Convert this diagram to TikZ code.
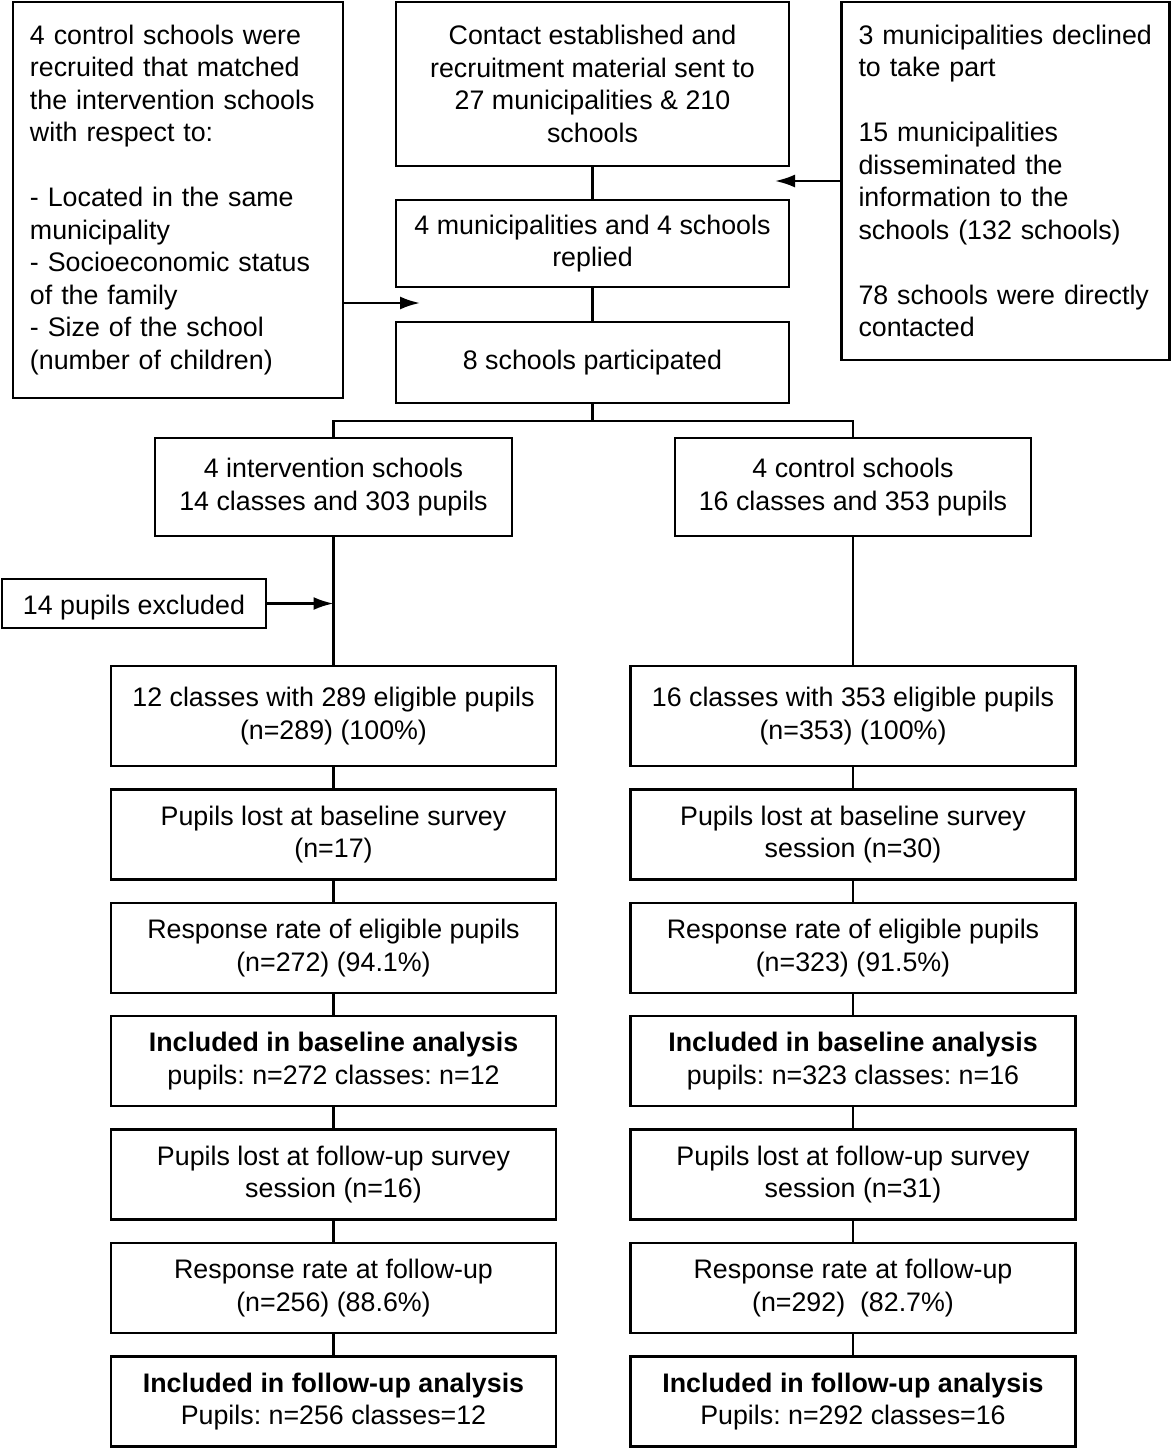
\documentclass[tikz,border=0pt]{standalone}
\usepackage{fontspec}
\setmainfont{Liberation Sans}
\usetikzlibrary{positioning,arrows.meta}
\frenchspacing

\begin{document}
\begin{tikzpicture}[x=0.5pt,y=-0.5pt,font=\fontsize{13.4}{16.25}\selectfont]
\tikzstyle{box}=[rectangle, draw=black, line width=1.2pt, align=center, inner sep=2pt]
\tikzstyle{note}=[box, align=left, inner xsep=8.5pt]
\tikzstyle{stage}=[box, minimum width=222.5pt, minimum height=45pt]
\tikzstyle{connect}=[-{Latex[length=10pt,width=6.5pt]}, line width=1.2pt]
\tikzstyle{link}=[line width=1.2pt]

\useasboundingbox (0,0) rectangle (1172,1448);

% 1. Recruitment
%%%%%%%%%%%%%%%%
\node[box, minimum width=196.5pt, minimum height=82pt] (contact) at (592.5,84)
  {Contact established and\\recruitment material sent to\\27 municipalities \& 210\\schools};
\node[box, minimum width=196.5pt, minimum height=43.5pt] (replied) at (592.5,243.5)
  {4 municipalities and 4 schools\\replied};
\node[box, minimum width=196.5pt, minimum height=40.5pt] (part) at (592.5,362.5)
  {8 schools participated};
\node[note, text width=148pt, minimum height=198pt] (match) at (178,200)
  {4 control schools were\\recruited that matched\\the intervention schools\\with respect to:\\[16.25pt]
   - Located in the same\\municipality\\- Socioeconomic status\\of the family\\- Size of the school\\(number of children)};
\node[note, text width=147pt, minimum height=179pt] (munic) at (1005.5,181)
  {3 municipalities declined\\to take part\\[16.25pt]
   15 municipalities\\disseminated the\\information to the\\schools (132 schools)\\[16.25pt]
   78 schools were directly\\contacted};
\coordinate (mtip) at (775,181);
\coordinate (ctip) at (420,303);
\coordinate (fork) at (592.5,421);

% 2. Groups
%%%%%%%%%%%
\node[box, minimum width=178.5pt, minimum height=49pt] (int) at (333.5,487)
  {4 intervention schools\\14 classes and 303 pupils};
\node[box, minimum width=178pt, minimum height=49pt] (ctl) at (853,487)
  {4 control schools\\16 classes and 353 pupils};
\node[box, minimum width=132pt, minimum height=24.5pt, text height=10.9pt, text depth=0pt] (excl) at (134,603.5)
  {14 pupils excluded};

% 3. Intervention column
%%%%%%%%%%%%%%%%%%%%%%%%
\node[stage, minimum height=50pt] (i1) at (333.5,716) {12 classes with 289 eligible pupils\\(n=289) (100\%)};
\node[stage] (i2) [below=10.5pt of i1] {Pupils lost at baseline survey\\(n=17)};
\node[stage] (i3) [below=10.5pt of i2] {Response rate of eligible pupils\\(n=272) (94.1\%)};
\node[stage] (i4) [below=10.5pt of i3] {\textbf{Included in baseline analysis}\\pupils: n=272 classes: n=12};
\node[stage] (i5) [below=10.5pt of i4] {Pupils lost at follow-up survey\\session (n=16)};
\node[stage] (i6) [below=10.5pt of i5] {Response rate at follow-up\\(n=256) (88.6\%)};
\node[stage] (i7) [below=10.5pt of i6] {\textbf{Included in follow-up analysis}\\Pupils: n=256 classes=12};

% 4. Control column
%%%%%%%%%%%%%%%%%%%
\node[stage, minimum height=50pt] (c1) at (853,716) {16 classes with 353 eligible pupils\\(n=353) (100\%)};
\node[stage] (c2) [below=10.5pt of c1] {Pupils lost at baseline survey\\session (n=30)};
\node[stage] (c3) [below=10.5pt of c2] {Response rate of eligible pupils\\(n=323) (91.5\%)};
\node[stage] (c4) [below=10.5pt of c3] {\textbf{Included in baseline analysis}\\pupils: n=323 classes: n=16};
\node[stage] (c5) [below=10.5pt of c4] {Pupils lost at follow-up survey\\session (n=31)};
\node[stage] (c6) [below=10.5pt of c5] {Response rate at follow-up\\(n=292)\ \ (82.7\%)};
\node[stage] (c7) [below=10.5pt of c6] {\textbf{Included in follow-up analysis}\\Pupils: n=292 classes=16};

% 5. Lines and arrows
%%%%%%%%%%%%%%%%%%%%%
\draw[link] (contact) -- (replied);
\draw[link] (replied) -- (part);
\draw[connect] (munic.west |- mtip) -- (mtip);
\draw[connect] (match.east |- ctip) -- (ctip);
\draw[link] (part.south) -- (fork) -| (int.north);
\draw[link] (fork) -| (ctl.north);
\draw[link] (int) -- (i1);
\draw[link] (ctl) -- (c1);
\draw[connect] (excl.east) -- (excl.east -| int.south);
\foreach \a/\b in {1/2,2/3,3/4,4/5,5/6,6/7} {
  \draw[link] (i\a) -- (i\b);
  \draw[link] (c\a) -- (c\b);
}

\end{tikzpicture}
\end{document}
